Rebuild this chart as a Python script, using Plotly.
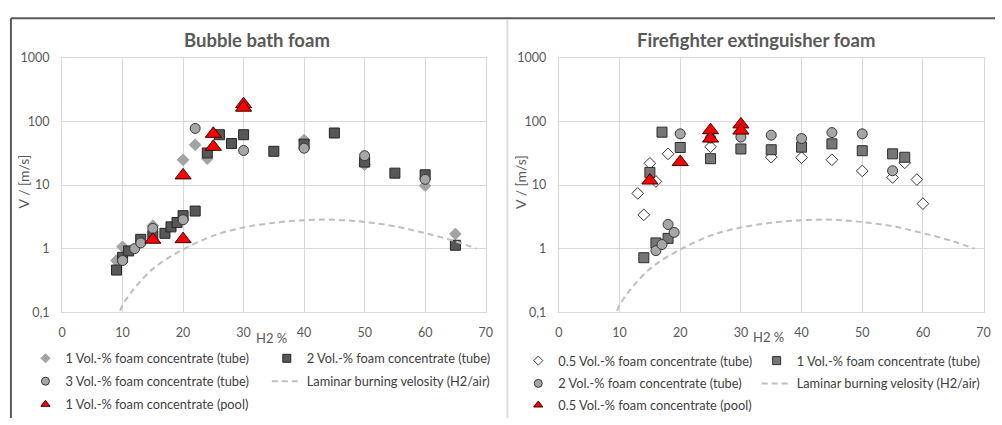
import plotly.graph_objects as go

W, H = 1002, 425

# ---------------- data: Bubble bath foam ----------------
bb_1vol_tube_x = [9, 10, 15, 20, 22, 24, 40, 50, 60, 65]
bb_1vol_tube_y = [0.65, 1.07, 2.3, 25, 43, 26, 51, 21, 9.8, 1.7]

bb_2vol_tube_x = [9, 10, 11, 13, 15, 17, 18, 19, 20, 22, 24, 26, 28, 30, 35, 40, 45, 50, 55, 60, 65]
bb_2vol_tube_y = [0.46, 0.73, 0.92, 1.4, 1.6, 1.74, 2.2, 2.57, 3.3, 3.9, 32, 62, 45, 62, 34, 44, 66, 23, 15.4, 14.5, 1.13]

bb_3vol_tube_x = [10, 12, 13, 15, 20, 22, 30, 40, 50, 60]
bb_3vol_tube_y = [0.65, 1.0, 1.23, 2.08, 2.85, 78, 35, 38, 29, 12.3]

bb_1vol_pool_x = [15, 20, 20, 25, 25, 30, 30]
bb_1vol_pool_y = [1.38, 14.2, 1.41, 64, 40, 187, 165]

# ---------------- data: Firefighter extinguisher foam ----------------
ff_05vol_tube_x = [13, 14, 15, 16, 18, 25, 35, 40, 45, 50, 55, 57, 59, 60]
ff_05vol_tube_y = [7.4, 3.4, 22, 11.4, 31, 40, 27.5, 27, 25, 16.7, 13.2, 22.4, 12.2, 5.1]

ff_1vol_tube_x = [14, 15, 16, 17, 18, 20, 25, 30, 35, 40, 45, 50, 55, 57]
ff_1vol_tube_y = [0.72, 15.8, 1.23, 68, 1.45, 39, 26, 37, 36, 39.5, 44.5, 34.7, 31, 27.4]

ff_2vol_tube_x = [16, 17, 18, 19, 20, 25, 30, 35, 40, 45, 50, 55]
ff_2vol_tube_y = [0.93, 1.16, 2.4, 1.8, 64, 55, 57, 61, 54, 67, 64, 16.8]

ff_05vol_pool_x = [15, 20, 25, 25, 30, 30]
ff_05vol_pool_y = [11.8, 23, 73, 54, 90, 72]

# ---------------- laminar burning velocity (H2/air) ----------------
lam_x = [9.6, 10, 11, 12, 13, 15, 17, 20, 25, 30, 35, 40, 45, 50, 55, 60, 65, 68.5]
lam_y = [0.105, 0.13, 0.18, 0.24, 0.31, 0.48, 0.66, 0.97, 1.6, 2.15, 2.55, 2.8, 2.85, 2.62, 2.25, 1.75, 1.3, 1.0]

x_ticks = [0, 10, 20, 30, 40, 50, 60, 70]
y_tickvals = [0.1, 1, 10, 100, 1000]
y_ticktext = ["0,1", "1", "10", "100", "1000"]

titles = ["Bubble bath foam", "Firefighter extinguisher foam"]
x_title = "H2 %"
y_title = "V / [m/s]"
lam_name = "Laminar burning velosity (H2/air)"

FONT = "Lato"
TXT = "#595959"
GRID = "#d9d9d9"

fig = go.Figure()


def px_x(p):
    return p / W


def px_y(p):
    return 1 - p / H


# marker styles
st_diam_gray = dict(symbol="diamond", color="#a3a3a3", line=dict(color="#a3a3a3", width=1))
st_sq_dark = dict(symbol="square", color="#575757", line=dict(color="#262626", width=1))
st_circ = dict(symbol="circle", color="#a6a6a6", line=dict(color="#383838", width=1))
st_tri = dict(symbol="triangle-up", color="#ff0000", line=dict(color="#3a0000", width=1))
st_diam_white = dict(symbol="diamond", color="#ffffff", line=dict(color="#383838", width=1))
st_sq_mid = dict(symbol="square", color="#767676", line=dict(color="#2e2e2e", width=1))

lam_line = dict(color="#bfbfbf", width=2, dash="6px,4px", shape="spline")

left = [
    ("1 Vol.-% foam concentrate (tube)", bb_1vol_tube_x, bb_1vol_tube_y, st_diam_gray, 9, 7),
    ("2 Vol.-% foam concentrate (tube)", bb_2vol_tube_x, bb_2vol_tube_y, st_sq_dark, 10, 8),
    ("3 Vol.-% foam concentrate (tube)", bb_3vol_tube_x, bb_3vol_tube_y, st_circ, 10, 8),
    (lam_name, lam_x, lam_y, None, 0, 0),
    ("1 Vol.-% foam concentrate (pool)", bb_1vol_pool_x, bb_1vol_pool_y, st_tri, 14, 8),
]
right = [
    ("0.5 Vol.-% foam concentrate (tube)", ff_05vol_tube_x, ff_05vol_tube_y, st_diam_white, 9, 7),
    ("1 Vol.-% foam concentrate (tube)", ff_1vol_tube_x, ff_1vol_tube_y, st_sq_mid, 10, 8),
    ("2 Vol.-% foam concentrate (tube)", ff_2vol_tube_x, ff_2vol_tube_y, st_circ, 10, 8),
    (lam_name, lam_x, lam_y, None, 0, 0),
    ("0.5 Vol.-% foam concentrate (pool)", ff_05vol_pool_x, ff_05vol_pool_y, st_tri, 14, 8),
]

# legend slot positions (marker centre px x, row centre px y)
left_slots = [(41.7, 363.3), (285.7, 363.3), (41.7, 387), (285.7, 387), (41.7, 411)]
right_slots = [(540, 365.7), (781, 365.7), (540, 389.3), (781, 389.3), (540, 411.7)]

legend_layouts = {}
lcount = 0
for panel, (series, slots, xa, ya) in enumerate([(left, left_slots, "x", "y"), (right, right_slots, "x2", "y2")]):
    for (name, xs, ys, st, size, lsize), (sx, sy) in zip(series, slots):
        lcount += 1
        lname = "legend" if lcount == 1 else f"legend{lcount}"
        if st is None:
            fig.add_trace(go.Scatter(x=xs, y=ys, mode="lines", line=lam_line, name=name,
                                     xaxis=xa, yaxis=ya, showlegend=False, hoverinfo="skip"))
            fig.add_trace(go.Scatter(x=[None], y=[None], mode="lines", line=lam_line, name=name,
                                     xaxis=xa, yaxis=ya, showlegend=True, legend=lname))
        else:
            m = dict(st)
            fig.add_trace(go.Scatter(x=xs, y=ys, mode="markers", marker=dict(size=size, **m), name=name,
                                     xaxis=xa, yaxis=ya, showlegend=False))
            fig.add_trace(go.Scatter(x=[None], y=[None], mode="markers", marker=dict(size=lsize, **m), name=name,
                                     xaxis=xa, yaxis=ya, showlegend=True, legend=lname))
        legend_layouts[lname] = dict(
            x=px_x(sx - 20), y=px_y(sy), xanchor="left", yanchor="middle",
            bgcolor="rgba(0,0,0,0)", borderwidth=0, itemsizing="trace",
            font=dict(family=FONT, size=12.8, color="#404040"),
        )

axis_common_x = dict(range=[0, 70], tickvals=x_ticks, showgrid=True, gridcolor=GRID, gridwidth=1,
                     zeroline=False, showline=True, linecolor=GRID, linewidth=1, mirror=True,
                     ticks="", tickfont=dict(family=FONT, size=12.5, color=TXT), ticklabelstandoff=9)
axis_common_y = dict(type="log", range=[-1, 3], tickvals=y_tickvals, ticktext=y_ticktext,
                     showgrid=True, gridcolor=GRID, gridwidth=1, zeroline=False, showline=True,
                     linecolor=GRID, linewidth=1, mirror=True, ticks="",
                     tickfont=dict(family=FONT, size=12.5, color=TXT), ticklabelstandoff=9)

L_x0, L_x1 = 58.7, 487.0
R_x0, R_x1 = 561.0, 990.5
T_y0, T_y1 = 51.8, 315.3

fig.update_layout(
    width=W, height=H, autosize=False,
    margin=dict(l=0, r=0, t=0, b=0),
    paper_bgcolor="white", plot_bgcolor="white",
    showlegend=True,
    xaxis=dict(domain=[px_x(L_x0), px_x(L_x1)], anchor="y", **axis_common_x),
    yaxis=dict(domain=[px_y(T_y1), px_y(T_y0)], anchor="x", **axis_common_y),
    xaxis2=dict(domain=[px_x(R_x0), px_x(R_x1)], anchor="y2", **axis_common_x),
    yaxis2=dict(domain=[px_y(T_y1), px_y(T_y0)], anchor="x2", **axis_common_y),
    **legend_layouts,
)

ann = []
for cx, t in [(256, titles[0]), (760, titles[1])]:
    ann.append(dict(x=px_x(cx), y=px_y(33), xref="paper", yref="paper", text=f"<b>{t}</b>",
                    showarrow=False, xanchor="center", yanchor="middle",
                    font=dict(family=FONT, size=18.5, color=TXT)))
for cx, cy in [(270, 342), (773, 341)]:
    ann.append(dict(x=px_x(cx), y=px_y(cy), xref="paper", yref="paper", text=x_title,
                    showarrow=False, xanchor="center", yanchor="middle",
                    font=dict(family=FONT, size=13, color=TXT)))
for cx, cy in [(20, 180), (522, 180)]:
    ann.append(dict(x=px_x(cx), y=px_y(cy), xref="paper", yref="paper", text=y_title,
                    showarrow=False, xanchor="center", yanchor="middle", textangle=-90,
                    font=dict(family=FONT, size=14, color=TXT)))
fig.update_layout(annotations=ann)

shapes = [
    dict(type="line", xref="paper", yref="paper", x0=px_x(7), x1=1, y0=px_y(10.7), y1=px_y(10.7),
         line=dict(color="#5a5a5a", width=2)),
    dict(type="line", xref="paper", yref="paper", x0=px_x(7), x1=px_x(7), y0=px_y(10.7), y1=0,
         line=dict(color="#5a5a5a", width=2)),
    dict(type="line", xref="paper", yref="paper", x0=px_x(509), x1=px_x(509), y0=px_y(11.5), y1=0,
         line=dict(color="#dcdcdc", width=2)),
]
fig.update_layout(shapes=shapes)

fig.write_html("out.html")
